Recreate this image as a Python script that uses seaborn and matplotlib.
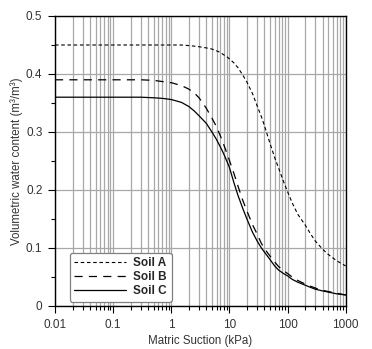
import numpy as np
import pandas as pd
import seaborn as sns
import matplotlib
matplotlib.use("Agg")
import matplotlib.pyplot as plt
from matplotlib.ticker import FixedLocator, FixedFormatter, LogLocator, NullFormatter, MultipleLocator

suction = [0.01, 0.1, 0.3, 0.5, 0.7, 1, 1.5, 2, 2.5, 3, 4, 5, 6, 7, 8, 9, 10, 12, 14,
           17, 20, 25, 30, 35, 40, 50, 60, 70, 85, 100, 120, 150, 200, 250, 300,
           400, 500, 700, 1000]
soil_a = [0.45, 0.45, 0.45, 0.45, 0.45, 0.45, 0.45, 0.449, 0.448, 0.447, 0.445,
          0.443, 0.440, 0.437, 0.433, 0.430, 0.426, 0.419, 0.411, 0.398, 0.386,
          0.366, 0.345, 0.328, 0.311, 0.280, 0.256, 0.238, 0.215, 0.197, 0.178,
          0.158, 0.140, 0.124, 0.112, 0.098, 0.089, 0.078, 0.069]
soil_b = [0.39, 0.39, 0.39, 0.389, 0.387, 0.385, 0.380, 0.374, 0.367, 0.359, 0.341,
          0.324, 0.309, 0.293, 0.278, 0.264, 0.251, 0.228, 0.207, 0.182, 0.164,
          0.140, 0.124, 0.109, 0.099, 0.086, 0.076, 0.068, 0.061, 0.056, 0.050,
          0.044, 0.038, 0.034, 0.031, 0.027, 0.025, 0.022, 0.019]
soil_c = [0.36, 0.36, 0.36, 0.359, 0.358, 0.356, 0.351, 0.344, 0.336, 0.328, 0.315,
          0.300, 0.287, 0.274, 0.262, 0.250, 0.239, 0.212, 0.191, 0.168, 0.150,
          0.127, 0.112, 0.101, 0.093, 0.080, 0.069, 0.062, 0.056, 0.052, 0.046,
          0.041, 0.036, 0.032, 0.029, 0.026, 0.024, 0.021, 0.019]
series_names = ["Soil A", "Soil B", "Soil C"]
x_ticks = [0.01, 0.1, 1, 10, 100, 1000]
x_tick_labels = ["0.01", "0.1", "1", "10", "100", "1000"]
y_ticks = [0, 0.1, 0.2, 0.3, 0.4, 0.5]
y_tick_labels = ["0", "0.1", "0.2", "0.3", "0.4", "0.5"]

df = pd.DataFrame({
    "suction": suction * 3,
    "theta": soil_a + soil_b + soil_c,
    "soil": sum([[n] * len(suction) for n in series_names], []),
})

sns.set_style("white")
plt.rcParams["font.family"] = ["Liberation Sans", "DejaVu Sans"]

fig = plt.figure(figsize=(3.72, 3.49), dpi=100)
ax = fig.add_axes([55 / 372, 43 / 349, 290.7 / 372, 290 / 349])

styles = {"Soil A": (0, (3.2, 2.4)), "Soil B": (0, (6.5, 5)), "Soil C": "-"}
widths = {"Soil A": 0.8, "Soil B": 0.9, "Soil C": 0.9}
for name in series_names:
    sns.lineplot(data=df[df["soil"] == name], x="suction", y="theta", ax=ax,
                 color="black", linestyle=styles[name], linewidth=widths[name],
                 label=name, zorder=3)

ax.set_xscale("log")
ax.set_xlim(0.01, 1000)
ax.set_ylim(0, 0.5)

ax.xaxis.set_major_locator(FixedLocator(x_ticks))
ax.xaxis.set_major_formatter(FixedFormatter(x_tick_labels))
ax.xaxis.set_minor_locator(LogLocator(base=10, subs=np.arange(2, 10)))
ax.xaxis.set_minor_formatter(NullFormatter())
ax.yaxis.set_major_locator(FixedLocator(y_ticks))
ax.yaxis.set_major_formatter(FixedFormatter(y_tick_labels))
ax.yaxis.set_minor_locator(MultipleLocator(0.05))

ax.grid(True, which="major", axis="both", color="#a8a8a8", linewidth=0.9)
ax.grid(True, which="minor", axis="x", color="#a8a8a8", linewidth=0.9)
ax.set_axisbelow(True)

for s in ax.spines.values():
    s.set_color("black")
    s.set_linewidth(1.0)

ax.tick_params(axis="both", which="major", direction="out", length=5, width=0.8,
               labelsize=8.5, colors="black", labelcolor="#333333",
               bottom=True, left=True, top=False, right=False, pad=4)
ax.tick_params(axis="both", which="minor", direction="out", length=3, width=0.8,
               colors="black", bottom=True, left=True, top=False, right=False)

ax.set_xlabel("Matric Suction (kPa)", fontsize=8.3, color="#333333", labelpad=3)
ax.set_ylabel("Volumetric water content (m\u00b3/m\u00b3)", fontsize=8.3, color="#333333", labelpad=2)

leg = ax.legend(loc="lower left", bbox_to_anchor=(0.05, 0.015), frameon=True,
                fancybox=True, edgecolor="#808080", framealpha=1,
                prop={"weight": "bold", "size": 8.5}, handlelength=4.4,
                handletextpad=0.6, borderpad=0.4, labelspacing=0.15,
                borderaxespad=0)
leg.get_frame().set_linewidth(0.9)

fig.savefig("out.png", dpi=100)
